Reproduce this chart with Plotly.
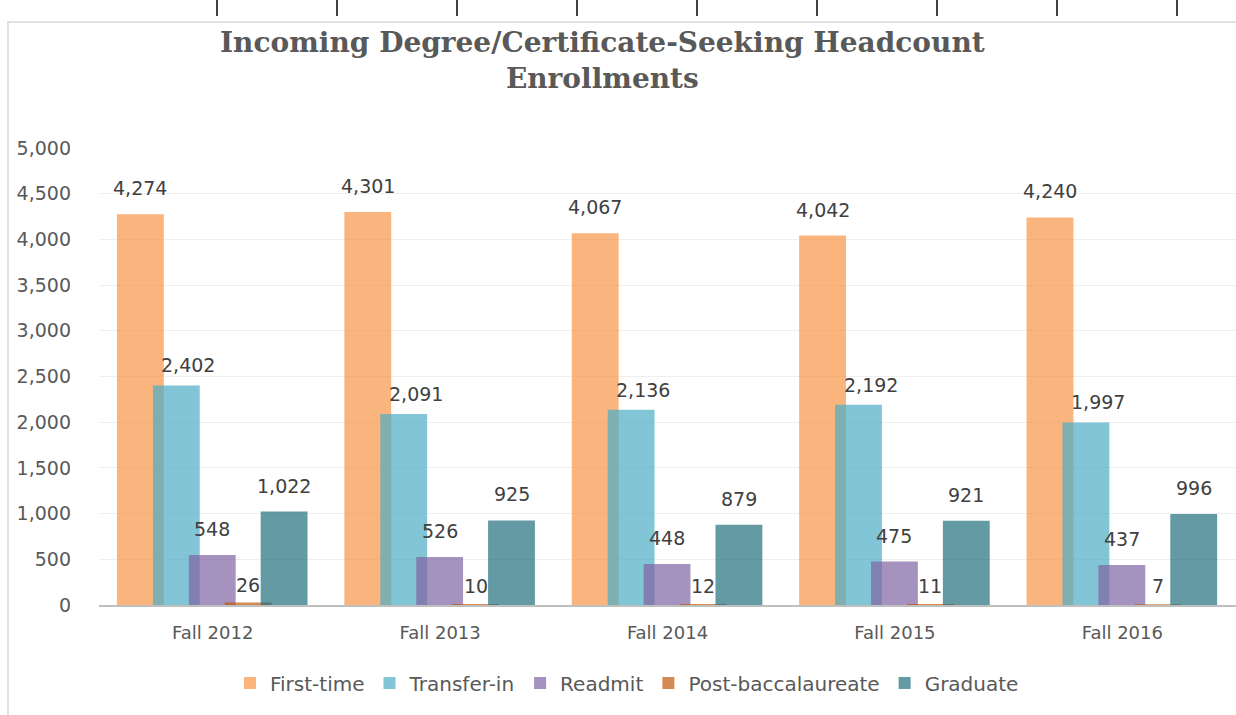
import plotly.graph_objects as go

terms = ["Fall 2012", "Fall 2013", "Fall 2014", "Fall 2015", "Fall 2016"]
series_names = ["First-time", "Transfer-in", "Readmit", "Post-baccalaureate", "Graduate"]
first_time = [4274, 4301, 4067, 4042, 4240]
transfer_in = [2402, 2091, 2136, 2192, 1997]
readmit = [548, 526, 448, 475, 437]
post_bacc = [26, 10, 12, 11, 7]
graduate = [1022, 925, 879, 921, 996]
y_ticks = [0, 500, 1000, 1500, 2000, 2500, 3000, 3500, 4000, 4500, 5000]

W, H = 1236, 715
colors = ["rgba(247,150,70,0.7)", "rgba(75,172,198,0.7)", "rgba(128,100,162,0.7)",
          "rgba(192,88,10,0.7)", "rgba(33,111,124,0.7)"]
all_values = [first_time, transfer_in, readmit, post_bacc, graduate]
FONT = "DejaVu Sans"

# overlapping bars like the Excel original
bar_w = 0.206
step = 0.158
first_off = -0.421
cat_px = (W - 99) / 5.0
# label nudges (px): [xshift extra, yshift]
label_nudge = [(0, 13), (12, 7), (0, 13), (0, 5), (0, 13)]

fig = go.Figure()
annotations = []
for k, (name, vals) in enumerate(zip(series_names, all_values)):
    off = first_off + k * step
    fig.add_trace(go.Bar(
        name=name, x=terms, y=vals,
        offset=off, width=bar_w,
        marker=dict(color=colors[k], line=dict(width=0)),
        hoverinfo="x+y+name",
    ))
    for t, v in zip(terms, vals):
        annotations.append(dict(
            x=t, y=v, xref="x", yref="y",
            text=f"{v:,}", showarrow=False,
            xanchor="center", yanchor="bottom",
            xshift=(off + bar_w / 2) * cat_px + label_nudge[k][0],
            yshift=label_nudge[k][1],
            font=dict(family=FONT, size=19, color="#404040"),
        ))

annotations.append(dict(
    text="<b>Incoming Degree/Certificate-Seeking Headcount<br>Enrollments</b>",
    x=602 / W, y=1 - 24 / H, xref="paper", yref="paper",
    xanchor="center", yanchor="top", showarrow=False,
    font=dict(family="DejaVu Serif", size=28, color="#595959"),
))

shapes = [dict(type="rect", xref="paper", yref="paper",
               x0=8 / W, x1=1.05, y0=-0.05, y1=1 - 22 / H,
               line=dict(color="#d9d9d9", width=1.5), fillcolor="rgba(0,0,0,0)",
               layer="below")]
for i in range(9):
    px = 217 + 120 * i
    shapes.append(dict(type="line", xref="paper", yref="paper",
                       x0=px / W, x1=px / W, y0=1, y1=1 - 16 / H,
                       line=dict(color="#000000", width=1.5)))

fig.update_layout(
    width=W, height=H,
    margin=dict(l=0, r=0, t=0, b=0),
    paper_bgcolor="white", plot_bgcolor="white",
    barmode="overlay",
    showlegend=True,
    legend=dict(orientation="h", x=627 / W, y=1 - 683 / H, xanchor="center", yanchor="middle",
                font=dict(family=FONT, size=20, color="#595959"),
                itemwidth=30, traceorder="normal"),
    annotations=annotations,
    shapes=shapes,
    xaxis=dict(domain=[99 / W, 1], range=[-0.5, 4.5], showgrid=False, automargin=False,
               showline=True, linecolor="#bfbfbf", linewidth=2,
               ticks="", tickfont=dict(family=FONT, size=18, color="#595959"),
               ticklabelstandoff=10),
    yaxis=dict(domain=[(H - 605) / H, (H - 148) / H], range=[0, 5000], automargin=False,
               tickvals=y_ticks, tickformat=",d",
               showgrid=True, gridcolor="#efefef", gridwidth=1,
               zeroline=False, showline=False, ticks="",
               tickfont=dict(family=FONT, size=19, color="#595959"),
               ticklabelstandoff=27),
)

fig.write_html("out.html", config={"displayModeBar": False},
               post_script="document.body.style.margin='0';document.documentElement.style.overflow='hidden';")
